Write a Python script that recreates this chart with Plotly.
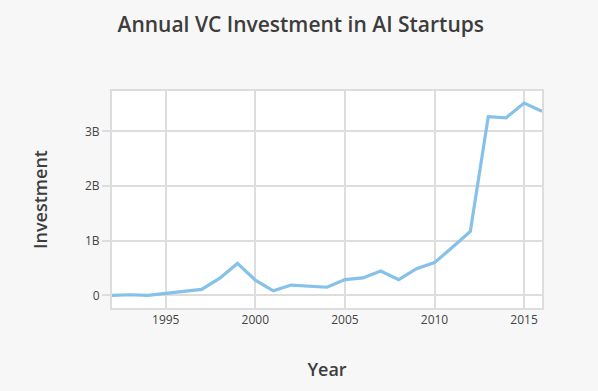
import plotly.graph_objects as go

years = list(range(1992, 2017))
investment = [0.0, 0.012, 0.0, 0.037, 0.067, 0.11, 0.31, 0.585, 0.28, 0.085,
              0.19, 0.17, 0.15, 0.29, 0.32, 0.445, 0.29, 0.49, 0.60, 0.88,
              1.17, 3.27, 3.25, 3.52, 3.37]
investment = [v * 1e9 for v in investment]

x_ticks = [1995, 2000, 2005, 2010, 2015]
y_ticks = [0, 1e9, 2e9, 3e9]
y_labels = ["0", "1B", "2B", "3B"]

font_family = "'Open Sans', Lato, sans-serif"

fig = go.Figure(go.Scatter(
    x=years, y=investment, mode="lines",
    line=dict(color="#85c1e9", width=3.2),
    hoverinfo="x+y",
))

fig.update_layout(
    width=598, height=391,
    paper_bgcolor="#f7f7f7", plot_bgcolor="#ffffff",
    margin=dict(l=112, r=56, t=91, b=83),
    title=dict(text="Annual VC Investment in AI Startups", x=0.503, xanchor="center",
               y=0.937, yanchor="middle",
               font=dict(family=font_family, size=21, color="#3d3d3d", weight=600)),
    font=dict(family=font_family, color="#444444", size=12),
    showlegend=False,
)
fig.update_xaxes(
    range=[1992, 2016], tickvals=x_ticks, ticktext=[str(t) for t in x_ticks],
    showgrid=True, gridcolor="#dddddd", gridwidth=2,
    showline=True, linecolor="#dddddd", linewidth=2, mirror=True,
    zeroline=False, ticks="", ticklen=0,
    tickfont=dict(size=12, color="#444444"),
    title=dict(text="Year", font=dict(size=18, color="#3d3d3d", weight=600), standoff=36),
)
fig.update_yaxes(
    range=[-0.23e9, 3.74e9], tickvals=y_ticks, ticktext=y_labels,
    showgrid=True, gridcolor="#dddddd", gridwidth=2,
    showline=True, linecolor="#dddddd", linewidth=2, mirror=True,
    zeroline=False, ticks="outside", ticklen=8, tickcolor="#dddddd", tickwidth=2,
    tickfont=dict(size=12, color="#444444"),
    title=dict(text="Investment", font=dict(size=18, color="#3d3d3d", weight=600), standoff=33),
)

fig.write_html(
    "out.html",
    config={"displayModeBar": False},
    post_script="document.body.style.margin='0';document.body.style.background='#f7f7f7';",
)
